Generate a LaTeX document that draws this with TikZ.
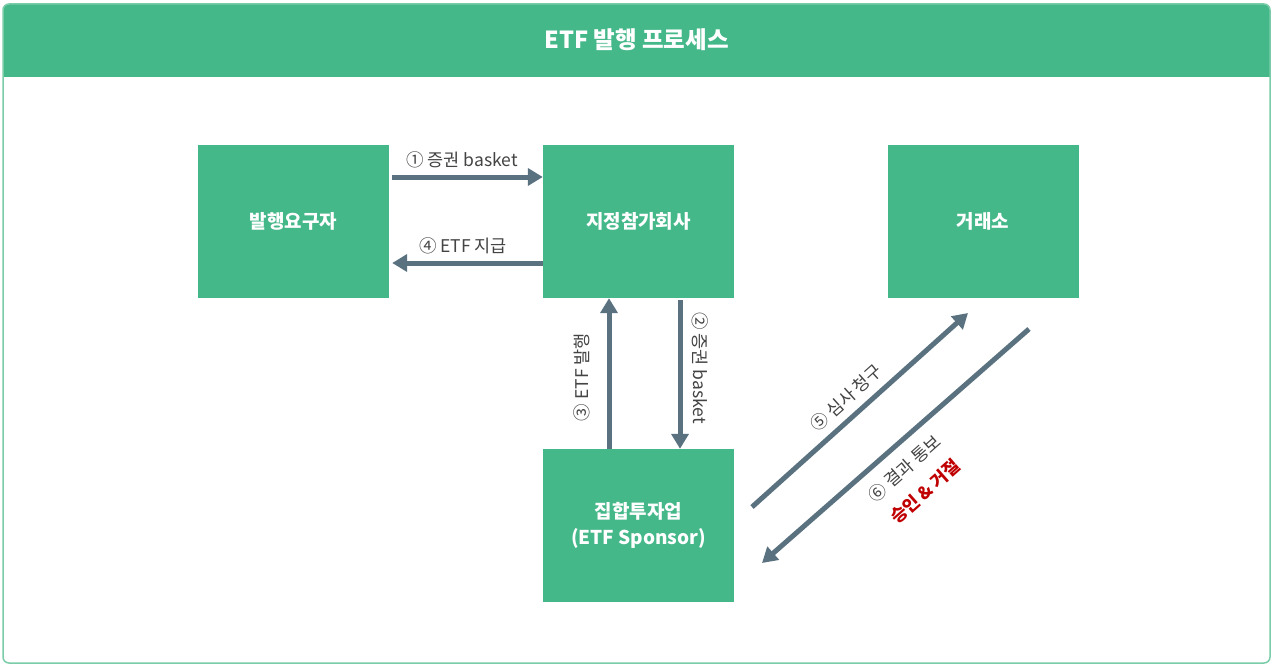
\documentclass[tikz,border=0pt]{standalone}
\usepackage{fontspec}
\setmainfont{Noto Sans CJK KR}
\usetikzlibrary{arrows.meta}
\definecolor{hdrgreen}{HTML}{45B88A}
\definecolor{framegreen}{HTML}{7ACDA8}
\definecolor{arrowgray}{HTML}{5A7280}
\definecolor{labelgray}{HTML}{444444}
\definecolor{redtext}{HTML}{C00000}
\tikzset{
  box/.style={fill=hdrgreen, minimum width=191pt, minimum height=153pt, inner sep=0pt,
    text=white, align=center, font=\fontsize{19}{26}\selectfont\bfseries},
  arr/.style={draw=arrowgray, line width=5pt, -{Triangle[length=15pt,width=17pt]}},
  lbl/.style={text=labelgray, font=\fontsize{17.5}{20}\selectfont, inner sep=0pt}
}
\begin{document}
\begin{tikzpicture}[x=1pt,y=-1pt]
\useasboundingbox (0,0) rectangle (1273,666);
% frame
\fill[white] (0,0) rectangle (1273,666);
\fill[hdrgreen, rounded corners=6pt] (3,4) rectangle (1270,77);
\fill[hdrgreen] (3,40) rectangle (1270,77);
\draw[framegreen, line width=1.5pt, rounded corners=6pt] (3,4) rectangle (1270,663);
\node[text=white, font=\fontsize{23.5}{26}\selectfont\bfseries] (title) at (636.5,40) {ETF 발행 프로세스};
% boxes
\node[box] (req) at (293.5,221.5) {발행요구자};
\node[box] (dp) at (638.5,221.5) {지정참가회사};
\node[box] (ex) at (983,221.5) {거래소};
\node[box] (sp) at (638.5,525.5) {집합투자업\\(ETF Sponsor)};
% horizontal arrows
\draw[arr] ([xshift=3pt,yshift=44.5pt]req.east) -- ([yshift=44.5pt]dp.west);
\node[lbl] (l1) at (462,160) {① 증권 basket};
\draw[arr] ([yshift=-41.5pt]dp.west) -- ([xshift=3pt,yshift=-41.5pt]req.east);
\node[lbl] (l4) at (463,246) {④ ETF 지급};
% vertical arrows
\draw[arr] ([xshift=-29.5pt]sp.north) -- ([xshift=-29.5pt]dp.south);
\node[lbl, rotate=90] (l3) at (582,377) {③ ETF 발행};
\draw[arr] ([xshift=41.5pt,yshift=-2pt]dp.south) -- ([xshift=41.5pt]sp.north);
\node[lbl, rotate=-90] (l2) at (700,368) {② 증권 basket};
% diagonal arrows
\coordinate (s5) at (752,507);
\coordinate (e5) at (968,313);
\coordinate (s6) at (1029,329);
\coordinate (e6) at (762,563);
\draw[arr] (s5) -- (e5);
\node[lbl, rotate=42] (l5) at (846,398) {⑤ 심사 청구};
\draw[arr] (s6) -- (e6);
\node[lbl, rotate=41.5, align=center, font=\fontsize{17.5}{31}\selectfont] (l6) at (915,480)
  {⑥ 결과 통보\\\textcolor{redtext}{\bfseries 승인 \& 거절}};
\end{tikzpicture}
\end{document}
